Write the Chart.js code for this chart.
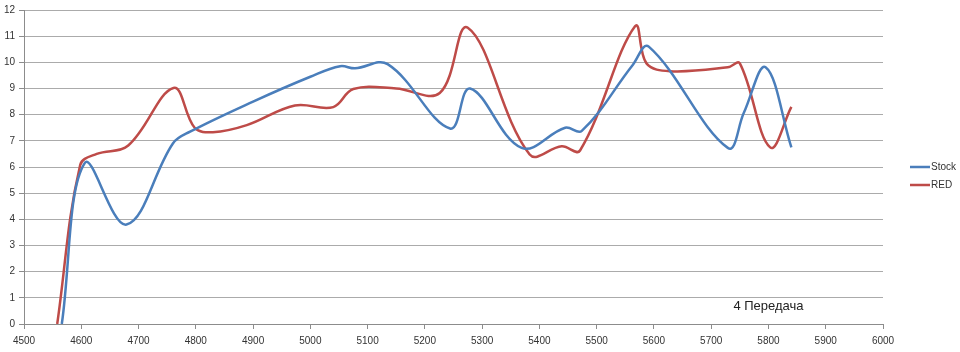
<!DOCTYPE html>
<html>
<head>
<meta charset="utf-8">
<script src="https://cdn.jsdelivr.net/npm/chart.js@4"></script>
<style>
    body { margin: 0; background: #fff; }
    #wrap { width: 960px; height: 352px; }
</style>
</head>
<body>
<div id="wrap"><canvas id="rpmChart"></canvas></div>
<script>
const xTicks = [4500, 4600, 4700, 4800, 4900, 5000, 5100, 5200, 5300, 5400, 5500, 5600, 5700, 5800, 5900, 6000];
const yTicks = [0, 1, 2, 3, 4, 5, 6, 7, 8, 9, 10, 11, 12];

const stockRpm  = [4566, 4606, 4679, 4760, 4790, 4900, 5000, 5052, 5078, 5135, 5244, 5279, 5369, 5445, 5474, 5563, 5591, 5729, 5757, 5795, 5840];
const stockVals = [0, 6.15, 3.8, 6.9, 7.35, 8.5, 9.45, 9.85, 9.77, 9.93, 7.47, 9.0, 6.73, 7.5, 7.38, 9.9, 10.6, 6.73, 8.07, 9.81, 6.75];

const redRpm  = [4558, 4598, 4627, 4682, 4761, 4798, 4830, 4889, 4973, 5040, 5075, 5150, 5226, 5275, 5383, 5439, 5471, 5567, 5587, 5628, 5729, 5750, 5803, 5840];
const redVals = [0, 6.07, 6.5, 6.82, 9.02, 7.5, 7.33, 7.6, 8.35, 8.29, 8.98, 9.0, 8.83, 11.32, 6.48, 6.79, 6.63, 11.38, 9.96, 9.66, 9.81, 9.96, 6.75, 8.3];

const seriesNames = ['Stock', 'RED'];
const seriesColors = ['#4a7ebb', '#be4b48'];
const noteText = '4 Передача';

function toPoints(xs, ys) {
    return xs.map((x, i) => ({ x: x, y: ys[i] }));
}

// legend on the right and the little note near the bottom
const extrasPlugin = {
    id: 'extras',
    afterDraw(chart) {
        const ctx = chart.ctx;
        ctx.save();
        ctx.font = '10px "Liberation Sans", Arial, sans-serif';
        ctx.textBaseline = 'middle';
        ctx.textAlign = 'left';
        seriesNames.forEach((name, i) => {
            const y = 167 + i * 18;
            ctx.strokeStyle = seriesColors[i];
            ctx.lineWidth = 2.5;
            ctx.beginPath();
            ctx.moveTo(910, y);
            ctx.lineTo(930, y);
            ctx.stroke();
            ctx.fillStyle = '#333';
            ctx.fillText(name, 931, y);
        });

        const xs = chart.scales.x, ys = chart.scales.y;
        ctx.font = '13px "Liberation Sans", Arial, sans-serif';
        ctx.textAlign = 'center';
        ctx.fillStyle = '#222';
        ctx.fillText(noteText, xs.getPixelForValue(5800), ys.getPixelForValue(0.68));
        ctx.restore();
    }
};

new Chart(document.getElementById('rpmChart'), {
    type: 'line',
    data: {
        datasets: [
            {
                label: seriesNames[0],
                data: toPoints(stockRpm, stockVals),
                borderColor: seriesColors[0],
                borderWidth: 2.5,
                pointRadius: 0,
                tension: 0.38,
                fill: false
            },
            {
                label: seriesNames[1],
                data: toPoints(redRpm, redVals),
                borderColor: seriesColors[1],
                borderWidth: 2.5,
                pointRadius: 0,
                tension: 0.38,
                fill: false
            }
        ]
    },
    options: {
        responsive: true,
        maintainAspectRatio: false,
        animation: false,
        layout: { padding: { top: 6, right: 77, left: 0, bottom: 0 } },
        plugins: {
            legend: { display: false },
            tooltip: { enabled: false }
        },
        scales: {
            x: {
                type: 'linear',
                min: 4500,
                max: 6000,
                afterBuildTicks: scale => { scale.ticks = xTicks.map(v => ({ value: v })); },
                afterFit: scale => { scale.height = 28; },
                grid: { drawOnChartArea: false, drawTicks: true, tickLength: 5, color: '#8c8c8c' },
                border: { color: '#8c8c8c' },
                ticks: {
                    padding: 6,
                    maxRotation: 0,
                    color: '#333',
                    font: { family: '"Liberation Sans", Arial, sans-serif', size: 10 },
                    callback: v => String(v)
                }
            },
            y: {
                min: 0,
                max: 12,
                afterBuildTicks: scale => { scale.ticks = yTicks.map(v => ({ value: v })); },
                afterFit: scale => { scale.width = 24; },
                grid: { color: '#ababab', tickLength: 5, tickColor: '#8c8c8c' },
                border: { color: '#8c8c8c' },
                ticks: {
                    padding: 4,
                    color: '#333',
                    font: { family: '"Liberation Sans", Arial, sans-serif', size: 10 },
                    callback: v => String(v)
                }
            }
        }
    },
    plugins: [extrasPlugin]
});
</script>
</body>
</html>
